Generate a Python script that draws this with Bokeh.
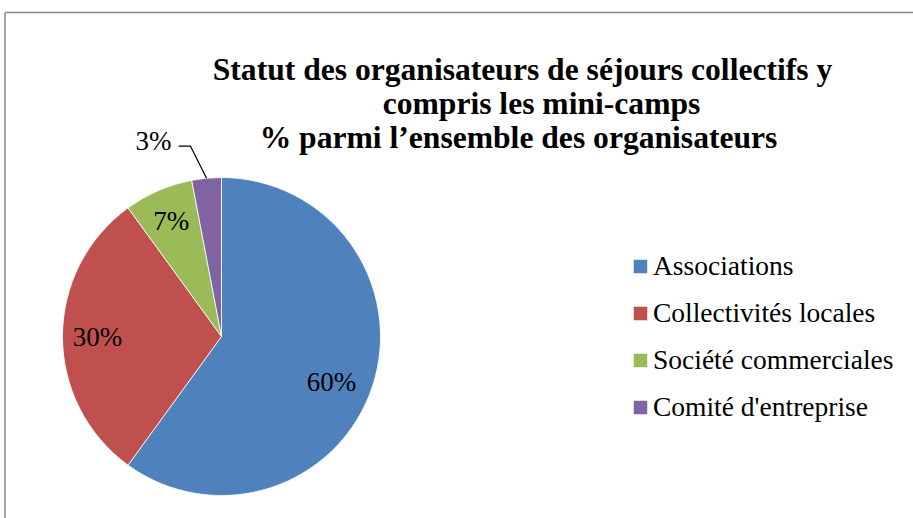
import numpy as np
from bokeh.plotting import figure
from bokeh.models import Range1d, Legend, LegendItem, ColumnDataSource
from bokeh.core.properties import value
from bokeh.embed import file_html
from bokeh.resources import INLINE

# ---- data ----
categories = ["Associations", "Collectivités locales", "Société commerciales", "Comité d'entreprise"]
shares = [60, 30, 7, 3]
share_labels = ["60%", "30%", "7%", "3%"]
colors = ["#4F81BD", "#C0504D", "#9BBB59", "#8064A2"]
title_lines = ["Statut des organisateurs de séjours collectifs y",
               "compris les mini-camps",
               "% parmi l\u2019ensemble des organisateurs"]

# ---- layout (screen px -> data units, 1:1) ----
W, H = 913, 518
OX, OY = 0, 0


def X(sx):
    return sx - OX


def Y(sy):
    return H - (sy - OY)


p = figure(width=W, height=H, output_backend="svg", toolbar_location=None,
           x_range=Range1d(0, W), y_range=Range1d(0, H),
           x_axis_type=None, y_axis_type=None, min_border=0,
           outline_line_color=None, background_fill_color="white",
           border_fill_color="white")

# chart border
p.segment(x0=[X(4.5), X(4.5)], y0=[Y(12), Y(12)], x1=[W, X(4.5)], y1=[Y(12), 0],
          line_color="#878787", line_width=1.5)

# pie
frac = np.array(shares, dtype=float) / sum(shares)
cum = np.concatenate([[0.0], np.cumsum(frac)])
start = np.pi / 2 - 2 * np.pi * cum[:-1]
end = np.pi / 2 - 2 * np.pi * cum[1:]
mid = (start + end) / 2
cx, cy, R = X(221), Y(336), 159

src = ColumnDataSource(dict(cat=categories, start=start, end=end, color=colors))
wr = p.wedge(x=cx, y=cy, radius=R, start_angle="start", end_angle="end",
             direction="clock", fill_color="color", line_color="white",
             line_width=0.8, source=src)

# data labels (inside)
f = 0.78
label_dx = [-8, 0, -1, 0]
label_dy = [-7, 0, 2, 0]
inside = [0, 1, 2]
lx = [cx + f * R * np.cos(mid[i]) + label_dx[i] for i in inside]
ly = [cy + f * R * np.sin(mid[i]) + label_dy[i] for i in inside]
p.text(x=lx, y=ly, text=[share_labels[i] for i in inside],
       text_align="center", text_baseline="middle",
       text_font=value("Liberation Serif"), text_font_size="27px", text_color="black")

# outside label with leader line (last slice)
k = 3
ex, ey = cx + R * np.cos(mid[k]), cy + R * np.sin(mid[k])
bx, by = ex - 16, ey + 32
tx = bx - 12
p.line(x=[ex, bx, tx], y=[ey, by, by], line_color="black", line_width=1.2)
p.text(x=[tx - 7], y=[by + 5], text=[share_labels[k]], text_align="right",
       text_baseline="middle", text_font=value("Liberation Serif"),
       text_font_size="27px", text_color="black")

# title
title_cx = [X(522), X(541), X(518)]
title_by = [Y(69), Y(103), Y(137)]
p.text(x=title_cx, y=title_by, text=title_lines, text_align="center",
       text_baseline="alphabetic", text_font=value("Liberation Serif"),
       text_font_style="bold", text_font_size="31.6px", text_color="black")

# legend
legend = Legend(items=[LegendItem(label=c, renderers=[wr], index=i) for i, c in enumerate(categories)],
                location=(X(631), Y(423)), orientation="vertical",
                glyph_width=18, glyph_height=18, label_height=32, spacing=15,
                label_standoff=4, padding=0, margin=0,
                border_line_color=None, background_fill_alpha=0,
                label_text_font="Liberation Serif", label_text_font_size="27.5px",
                label_text_color="black")
p.add_layout(legend)

open("out.html", "w").write(file_html(p, INLINE))
